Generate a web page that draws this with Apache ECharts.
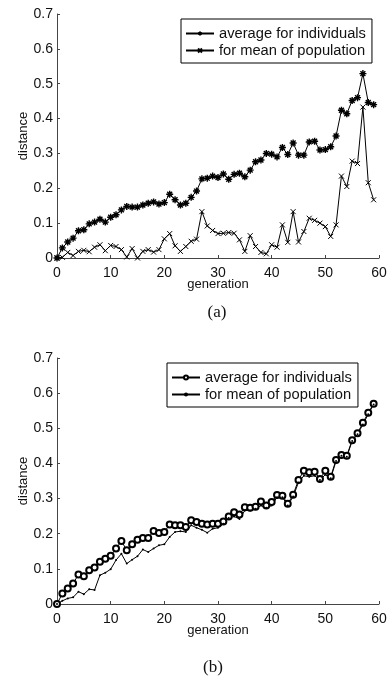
<!DOCTYPE html>
<html>
<head>
<meta charset="utf-8">
<script src="https://cdn.jsdelivr.net/npm/echarts@6/dist/echarts.min.js"></script>
<style>
  html, body { margin: 0; padding: 0; background: #fff; }
  #main { width: 390px; height: 676px; }
</style>
</head>
<body>
<div id="main"></div>
<script>
// (a) distances
var avgIndA = [0, 0.029, 0.046, 0.057, 0.078, 0.081, 0.098, 0.103, 0.111, 0.103,
    0.117, 0.124, 0.138, 0.148, 0.146, 0.146, 0.152, 0.157, 0.161, 0.155,
    0.159, 0.183, 0.167, 0.152, 0.157, 0.174, 0.192, 0.227, 0.229, 0.235,
    0.231, 0.241, 0.226, 0.240, 0.243, 0.233, 0.252, 0.276, 0.281, 0.300,
    0.298, 0.290, 0.317, 0.297, 0.330, 0.295, 0.295, 0.333, 0.335, 0.310,
    0.311, 0.319, 0.350, 0.424, 0.414, 0.452, 0.460, 0.529, 0.446, 0.440];
var meanPopA = [0, 0.002, 0.016, 0.007, 0.019, 0.022, 0.018, 0.031, 0.038, 0.021,
    0.036, 0.033, 0.024, 0.003, 0.027, 0.000, 0.019, 0.024, 0.017, 0.024,
    0.055, 0.070, 0.035, 0.019, 0.033, 0.048, 0.054, 0.133, 0.092, 0.079,
    0.070, 0.071, 0.073, 0.071, 0.052, 0.019, 0.064, 0.033, 0.016, 0.012,
    0.038, 0.031, 0.095, 0.045, 0.133, 0.046, 0.076, 0.114, 0.108, 0.100,
    0.090, 0.062, 0.095, 0.235, 0.205, 0.278, 0.271, 0.433, 0.216, 0.167];

// (b) distances
var avgIndB = [0, 0.030, 0.044, 0.058, 0.084, 0.079, 0.096, 0.104, 0.120, 0.129,
    0.137, 0.158, 0.179, 0.153, 0.170, 0.183, 0.188, 0.188, 0.208, 0.202,
    0.205, 0.226, 0.224, 0.224, 0.219, 0.238, 0.233, 0.228, 0.226, 0.228,
    0.228, 0.235, 0.249, 0.261, 0.255, 0.275, 0.274, 0.277, 0.292, 0.280,
    0.290, 0.310, 0.308, 0.285, 0.311, 0.353, 0.379, 0.375, 0.376, 0.356,
    0.379, 0.362, 0.410, 0.424, 0.422, 0.466, 0.486, 0.516, 0.544, 0.570];
var meanPopB = [0, 0.009, 0.016, 0.019, 0.035, 0.028, 0.042, 0.040, 0.082, 0.089,
    0.099, 0.125, 0.143, 0.115, 0.126, 0.136, 0.155, 0.148, 0.158, 0.167,
    0.170, 0.191, 0.205, 0.207, 0.205, 0.224, 0.217, 0.211, 0.203, 0.214,
    0.217, 0.228, 0.245, 0.249, 0.242, 0.266, 0.266, 0.271, 0.280, 0.274,
    0.280, 0.304, 0.304, 0.280, 0.306, 0.346, 0.365, 0.362, 0.365, 0.353,
    0.368, 0.358, 0.407, 0.422, 0.419, 0.464, 0.483, 0.511, 0.540, 0.568];

var legendNames = {
    a1: 'average for individuals', a2: 'for mean of population',
    b1: 'average for individuals', b2: 'for mean of population'
};

function pairs(vals) {
    var out = [];
    for (var i = 0; i < vals.length; i++) out.push([i, vals[i]]);
    return out;
}

var star = 'path://M5,0L5,10M0,5L10,5M1.5,1.5L8.5,8.5M8.5,1.5L1.5,8.5';
var cross = 'path://M0,0L10,10M10,0L0,10';

var axisColor = '#444';
var labelFont = { color: '#111', fontSize: 14, fontFamily: 'Liberation Sans, Arial, sans-serif' };

function xAx(gi) {
    return {
        type: 'value', gridIndex: gi, min: 0, max: 60, interval: 10,
        name: 'generation', nameLocation: 'middle', nameGap: 20, nameMoveOverlap: false,
        nameTextStyle: { color: '#111', fontSize: 13, fontFamily: 'Liberation Sans, Arial, sans-serif' },
        axisLine: { show: true, lineStyle: { color: axisColor, width: 1 } },
        axisTick: { show: true, inside: true, length: 3, lineStyle: { color: axisColor } },
        axisLabel: Object.assign({ margin: 8 }, labelFont),
        splitLine: { show: false }
    };
}
function yAx(gi) {
    return {
        type: 'value', gridIndex: gi, min: 0, max: 0.7, interval: 0.1,
        name: 'distance', nameLocation: 'middle', nameGap: 27, nameRotate: 90, nameMoveOverlap: false,
        nameTextStyle: { color: '#111', fontSize: 13, fontFamily: 'Liberation Sans, Arial, sans-serif' },
        axisLine: { show: true, lineStyle: { color: axisColor, width: 1 } },
        axisTick: { show: true, inside: true, length: 3, lineStyle: { color: axisColor } },
        axisLabel: Object.assign({ margin: 4 }, labelFont),
        splitLine: { show: false }
    };
}
function legendAt(left, top, names) {
    return {
        left: left, top: top, orient: 'vertical', data: names,
        borderColor: '#000', borderWidth: 1, padding: [7, 6, 5, 4],
        itemWidth: 28, itemHeight: 5, itemGap: 2,
        selectedMode: false,
        formatter: function (n) { return legendNames[n]; },
        textStyle: { color: '#111', fontSize: 14.7, fontFamily: 'Liberation Sans, Arial, sans-serif' }
    };
}

var myChart = echarts.init(document.getElementById('main'));
var option = {
    animation: false,
    backgroundColor: '#fff',
    title: [
        { text: '(a)', left: 212, top: 299, textAlign: 'center',
          textStyle: { fontFamily: 'Liberation Serif, Times New Roman, serif', fontWeight: 'normal', fontSize: 17, color: '#111' } },
        { text: '(b)', left: 208, top: 654, textAlign: 'center',
          textStyle: { fontFamily: 'Liberation Serif, Times New Roman, serif', fontWeight: 'normal', fontSize: 17, color: '#111' } }
    ],
    grid: [
        { left: 57, top: 14, width: 322, height: 244 },
        { left: 57, top: 358, width: 322, height: 246 }
    ],
    xAxis: [xAx(0), xAx(1)],
    yAxis: [yAx(0), yAx(1)],
    legend: [
        legendAt(181, 19, ['a1', 'a2']),
        legendAt(167, 363, ['b1', 'b2'])
    ],
    series: [
        { name: 'a1', type: 'line', xAxisIndex: 0, yAxisIndex: 0, data: pairs(avgIndA),
          symbol: star, symbolSize: 7,
          lineStyle: { color: '#000', width: 1 },
          itemStyle: { color: '#000', borderColor: '#000', borderWidth: 1.4 } },
        { name: 'a2', type: 'line', xAxisIndex: 0, yAxisIndex: 0, data: pairs(meanPopA),
          symbol: cross, symbolSize: 5,
          lineStyle: { color: '#000', width: 1 },
          itemStyle: { color: '#000', borderColor: '#000', borderWidth: 1 } },
        { name: 'b1', type: 'line', xAxisIndex: 1, yAxisIndex: 1, data: pairs(avgIndB),
          symbol: 'emptyCircle', symbolSize: 6,
          lineStyle: { color: '#000', width: 1 },
          itemStyle: { color: '#000', borderColor: '#000', borderWidth: 0.9 } },
        { name: 'b2', type: 'line', xAxisIndex: 1, yAxisIndex: 1, data: pairs(meanPopB),
          symbol: 'circle', symbolSize: 2,
          lineStyle: { color: '#000', width: 1 },
          itemStyle: { color: '#000' } }
    ]
};
myChart.setOption(option);
</script>
</body>
</html>
